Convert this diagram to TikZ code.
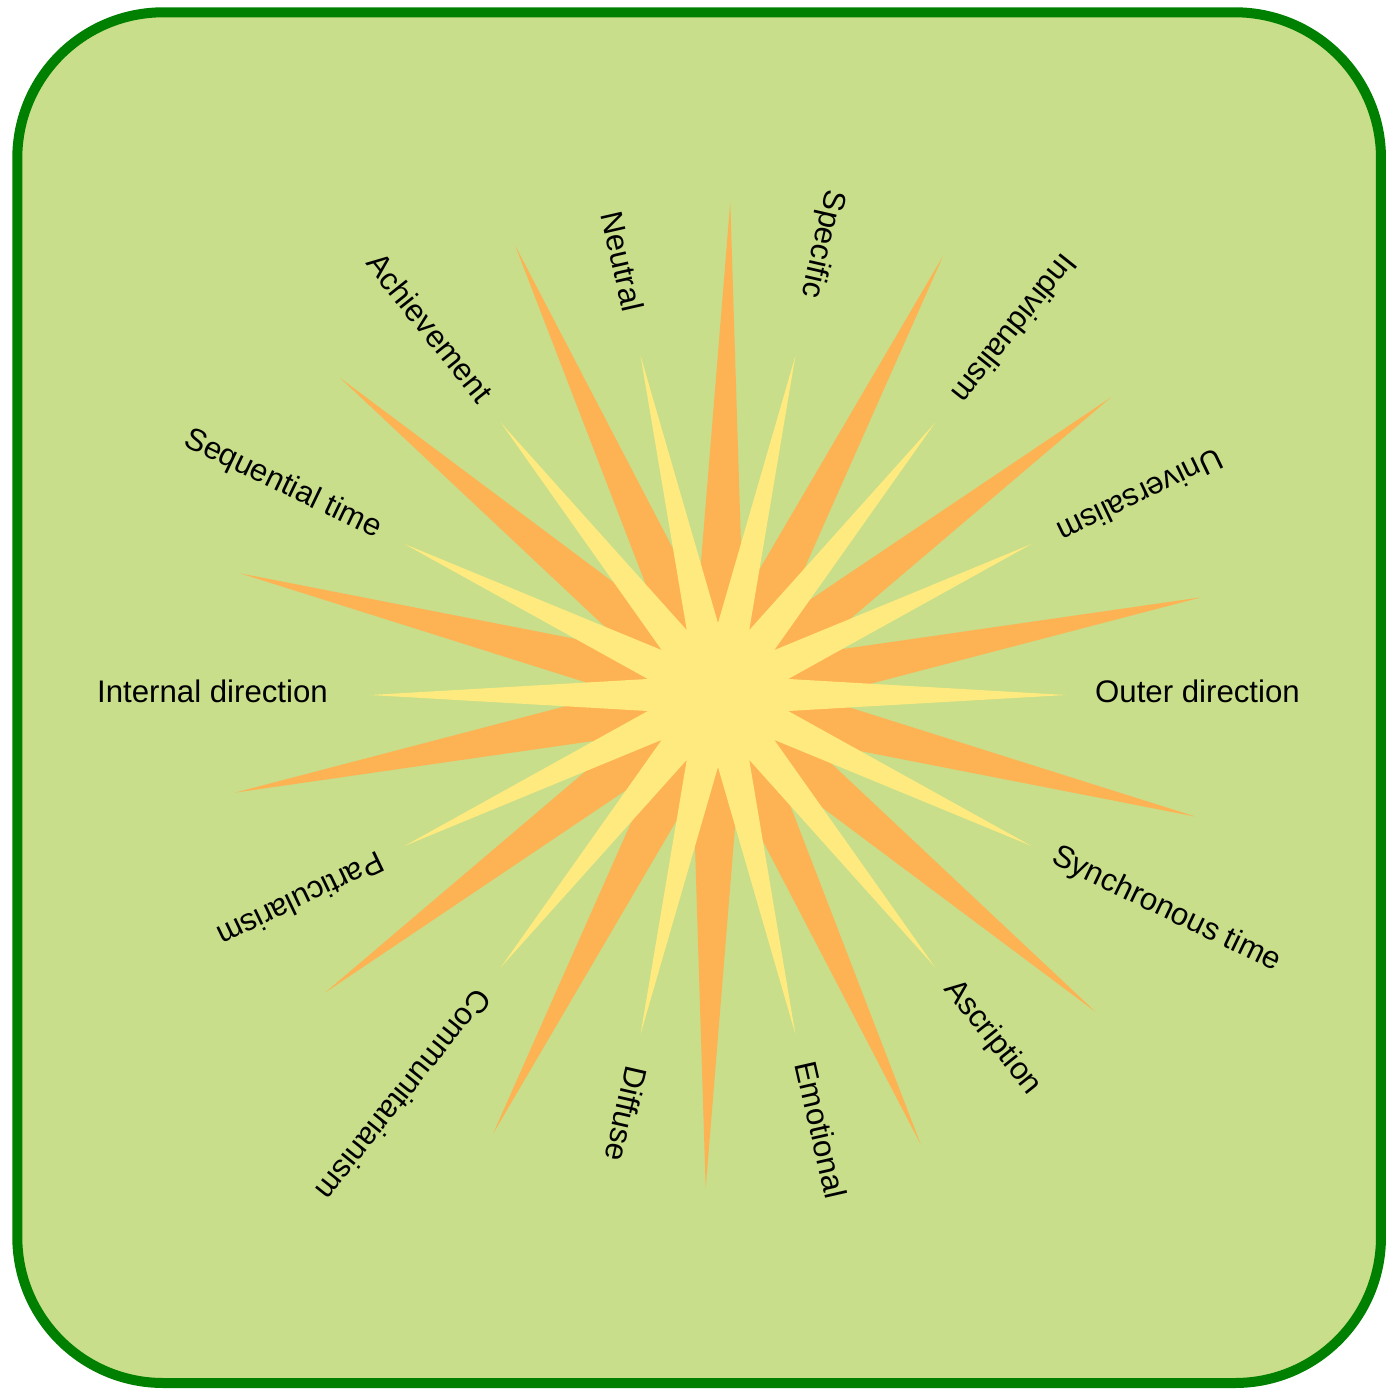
\documentclass[tikz,border=0pt]{standalone}
\usepackage{fontspec}
\setmainfont{Liberation Sans}
\usepackage{tikz}

\definecolor{frame}{RGB}{0,128,0}
\definecolor{panel}{RGB}{200,222,138}
\definecolor{longray}{RGB}{253,178,84}
\definecolor{shortray}{RGB}{254,234,126}

\begin{document}
\begin{tikzpicture}[x=0.5pt,y=0.5pt,
                    lbl/.style={font=\fontsize{15.6}{18}\selectfont,inner sep=0pt,
                                text height=0.72em,text depth=0pt}]
  \useasboundingbox (-718,-694) rectangle (668,695);

  % panel
  \draw[line width=5pt,draw=frame,fill=panel,rounded corners=73pt]
    (-700.7,-688) rectangle (663,682.7);

  % long rays behind, short rays in front
  \fill[longray] (11.43:493) \foreach \k in {0,...,13} {
    -- ({11.43+25.714*\k}:493) -- ({24.29+25.714*\k}:100) } -- cycle;
  \fill[shortray] (0:348) \foreach \k in {0,...,13} {
    -- ({25.714*\k}:348) -- ({12.857+25.714*\k}:72) } -- cycle;

  \node[lbl,rotate=0]      (outer)  at (0:479.5)     {Outer direction};
  \node[lbl,rotate=205.71] (univ)   at (25.71:467)   {Universalism};
  \node[lbl,rotate=231.43] (indiv)  at (51.43:471)   {Individualism};
  \node[lbl,rotate=257.14] (spec)   at (77.14:463)   {Specific};
  \node[lbl,rotate=282.86] (neut)   at (102.86:444)  {Neutral};
  \node[lbl,rotate=308.57] (achv)   at (128.57:467)  {Achievement};
  \node[lbl,rotate=334.29] (seqt)   at (154.29:483.6){Sequential time};
  \node[lbl,rotate=0]      (inner)  at (180:505.5)   {Internal direction};
  \node[lbl,rotate=205.71] (part)   at (205.71:464.7){Particularism};
  \node[lbl,rotate=231.43] (comm)   at (231.43:508.8){Communitarianism};
  \node[lbl,rotate=257.14] (diff)   at (257.14:429)  {Diffuse};
  \node[lbl,rotate=282.86] (emot)   at (282.86:446.8){Emotional};
  \node[lbl,rotate=308.57] (ascr)   at (308.57:439)  {Ascription};
  \node[lbl,rotate=334.29] (synt)   at (334.29:497)  {Synchronous time};

\end{tikzpicture}
\end{document}
